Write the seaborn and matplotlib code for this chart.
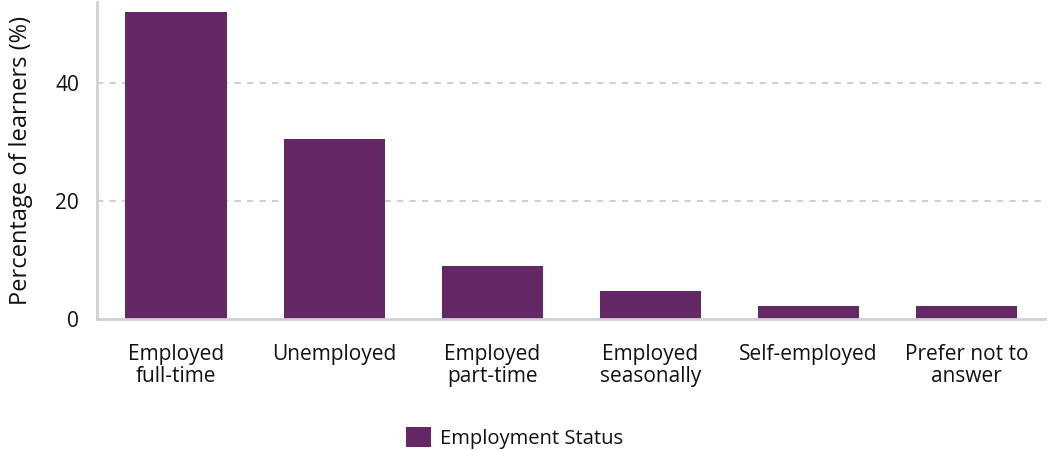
import matplotlib
matplotlib.use("Agg")
import matplotlib.pyplot as plt
import seaborn as sns
import pandas as pd

categories = ["Employed\nfull-time", "Unemployed", "Employed\npart-time",
              "Employed\nseasonally", "Self-employed", "Prefer not to\nanswer"]
percentages = [52.0, 30.4, 9.0, 4.7, 2.2, 2.2]
series_name = "Employment Status"
y_ticks = [0, 20, 40]

bar_color = "#652867"
axis_color = "#cfd1d1"
text_color = "#111111"

sns.set_theme(style="white")
plt.rcParams["font.family"] = ["Open Sans", "DejaVu Sans"]

df = pd.DataFrame({"category": categories, "percent": percentages})

fig = plt.figure(figsize=(10.48, 4.5), dpi=100)
ax = fig.add_axes([0.0926, 0.291, 0.905, 0.705])

sns.barplot(data=df, x="category", y="percent", color=bar_color,
            saturation=1, width=0.64, label=series_name, ax=ax,
            edgecolor="none", linewidth=0)

ax.set_xlim(-0.5, 5.5)
ax.set_ylim(0, 53.7)
ax.set_yticks(y_ticks)
ax.set_xlabel("")
ax.set_ylabel("Percentage of learners (%)", fontsize=17, color=text_color, labelpad=16)
ax.tick_params(axis="both", length=0, labelsize=15, colors=text_color)
ax.tick_params(axis="x", pad=18)
ax.tick_params(axis="y", pad=13)
for lbl in ax.get_xticklabels():
    lbl.set_linespacing(1.05)

for y in y_ticks[1:]:
    ax.axhline(y, color=axis_color, linestyle=(0, (3, 3)), linewidth=1.5, zorder=0)

for side in ["top", "right"]:
    ax.spines[side].set_visible(False)
for side in ["left", "bottom"]:
    ax.spines[side].set_color(axis_color)
    ax.spines[side].set_linewidth(2)

if ax.get_legend():
    ax.get_legend().remove()
handles, labels = ax.get_legend_handles_labels()
fig.legend(handles, labels, loc="center", bbox_to_anchor=(0.491, 0.027),
           frameon=False, fontsize=14.5, handlelength=1.2, handleheight=1.2,
           handletextpad=0.45, labelcolor=text_color)

fig.savefig("out.png", dpi=100)
